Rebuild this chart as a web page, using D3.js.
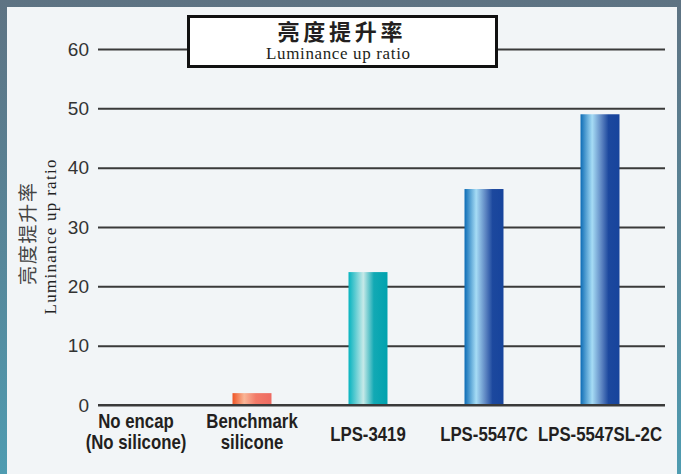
<!DOCTYPE html>
<html>
<head>
<meta charset="utf-8">
<script src="https://cdn.jsdelivr.net/npm/d3@7"></script>
<style>
  html, body { margin: 0; padding: 0; background: #5a7f90; }
  svg { display: block; }
</style>
</head>
<body>
<div id="chart"></div>
<script>
// data
var categories = ["No encap\n(No silicone)", "Benchmark\nsilicone", "LPS-3419", "LPS-5547C", "LPS-5547SL-2C"];
var values = [0, 2, 22.4, 36.4, 49];
var yTicks = [0, 10, 20, 30, 40, 50, 60];
var titleZh = "亮度提升率";
var titleEn = "Luminance up ratio";

var width = 681, height = 474;

var svg = d3.select("#chart").append("svg")
  .attr("width", width)
  .attr("height", height);

var defs = svg.append("defs");

// frame behind the panel
var bg = defs.append("linearGradient").attr("id", "bg")
  .attr("x1", 0).attr("y1", 0).attr("x2", 0).attr("y2", 1);
bg.append("stop").attr("offset", "0%").attr("stop-color", "#5e7383");
bg.append("stop").attr("offset", "55%").attr("stop-color", "#57879a");
bg.append("stop").attr("offset", "100%").attr("stop-color", "#4f9cb1");

svg.append("rect").attr("width", width).attr("height", height).attr("fill", "url(#bg)");
svg.append("rect")
  .attr("x", 7).attr("y", 7)
  .attr("width", 670).attr("height", height)
  .attr("fill", "#f2f5f7");

// bar gradients
function grad(id, stops) {
  var g = defs.append("linearGradient").attr("id", id)
    .attr("x1", 0).attr("y1", 0).attr("x2", 1).attr("y2", 0);
  stops.forEach(function(s) {
    g.append("stop").attr("offset", s[0]).attr("stop-color", s[1]);
  });
}
grad("gOrange", [["0%", "#ef5526"], ["30%", "#f9b596"], ["60%", "#f27a68"], ["100%", "#ee6a62"]]);
grad("gTeal", [["0%", "#06b3bf"], ["38%", "#c6e9e8"], ["65%", "#12a9b4"], ["100%", "#00a2ae"]]);
grad("gBlue", [["0%", "#0d6cb5"], ["30%", "#a6dcf5"], ["55%", "#5a82c0"], ["72%", "#1c489e"], ["100%", "#17449c"]]);
var fills = ["url(#gOrange)", "url(#gOrange)", "url(#gTeal)", "url(#gBlue)", "url(#gBlue)"];

var x = d3.scaleBand()
  .domain(categories)
  .range([78, 658])
  .paddingInner(0.664)
  .paddingOuter(0.332);

var y = d3.scaleLinear()
  .domain([0, 60])
  .range([405, 49]);

// gridlines + tick labels
var gridLeft = 98, gridRight = 665;
var yAxis = svg.append("g")
  .attr("transform", "translate(" + gridLeft + ",0)")
  .call(d3.axisLeft(y).tickValues(yTicks).tickSize(-(gridRight - gridLeft)).tickPadding(9));
yAxis.select(".domain").remove();
yAxis.selectAll(".tick line")
  .attr("stroke", "#3a3a3a")
  .attr("stroke-width", 2);
yAxis.selectAll(".tick text")
  .attr("fill", "#333")
  .style("font-family", "'Liberation Sans', Arial, sans-serif")
  .style("font-size", "19px");

// bars
svg.append("g").selectAll("rect")
  .data(values)
  .enter().append("rect")
  .attr("x", function(d, i) { return x(categories[i]); })
  .attr("width", x.bandwidth())
  .attr("y", function(d) { return y(d); })
  .attr("height", function(d) { return y(0) - y(d); })
  .attr("fill", function(d, i) { return fills[i]; });

// redraw the zero line over the bars
svg.append("line")
  .attr("x1", gridLeft).attr("x2", gridRight)
  .attr("y1", y(0)).attr("y2", y(0))
  .attr("stroke", "#3a3a3a").attr("stroke-width", 2);

// category labels (condensed bold look: squeeze Liberation Sans Bold)
var squeeze = 0.84;
var labelG = svg.append("g");
categories.forEach(function(d) {
  var lines = d.split("\n");
  var y0 = lines.length > 1 ? 428 : 441;
  lines.forEach(function(line, i) {
    labelG.append("text")
      .attr("text-anchor", "middle")
      .attr("fill", "#231f20")
      .style("font-family", "'Liberation Sans', Arial, sans-serif")
      .style("font-weight", "bold")
      .style("font-size", "20px")
      .attr("transform", "translate(" + (x(d) + x.bandwidth() / 2) + "," + (y0 + i * 21) + ") scale(" + squeeze + ",1)")
      .text(line);
  });
});

// title box
svg.append("rect")
  .attr("x", 188.5).attr("y", 16.5)
  .attr("width", 308).attr("height", 50)
  .attr("fill", "#fff")
  .attr("stroke", "#111")
  .attr("stroke-width", 3);
svg.append("text")
  .attr("x", 340).attr("y", 40)
  .attr("text-anchor", "middle")
  .attr("fill", "#231f20")
  .style("font-family", "'Noto Sans CJK SC', sans-serif")
  .style("font-size", "22px")
  .style("font-weight", "bold")
  .attr("textLength", 125)
  .text(titleZh);
svg.append("text")
  .attr("x", 338).attr("y", 59)
  .attr("text-anchor", "middle")
  .attr("fill", "#231f20")
  .style("font-family", "'Liberation Serif', 'Times New Roman', serif")
  .style("font-size", "17px")
  .attr("textLength", 144)
  .text(titleEn);

// rotated y axis title
svg.append("text")
  .attr("transform", "translate(35,234) rotate(-90)")
  .attr("text-anchor", "middle")
  .attr("fill", "#444")
  .style("font-family", "'Noto Sans CJK SC', sans-serif")
  .style("font-size", "19px")
  .attr("textLength", 102)
  .text(titleZh);
svg.append("text")
  .attr("transform", "translate(56,237) rotate(-90)")
  .attr("text-anchor", "middle")
  .attr("fill", "#222")
  .style("font-family", "'Liberation Serif', 'Times New Roman', serif")
  .style("font-size", "17px")
  .attr("textLength", 155)
  .text(titleEn);
</script>
</body>
</html>
